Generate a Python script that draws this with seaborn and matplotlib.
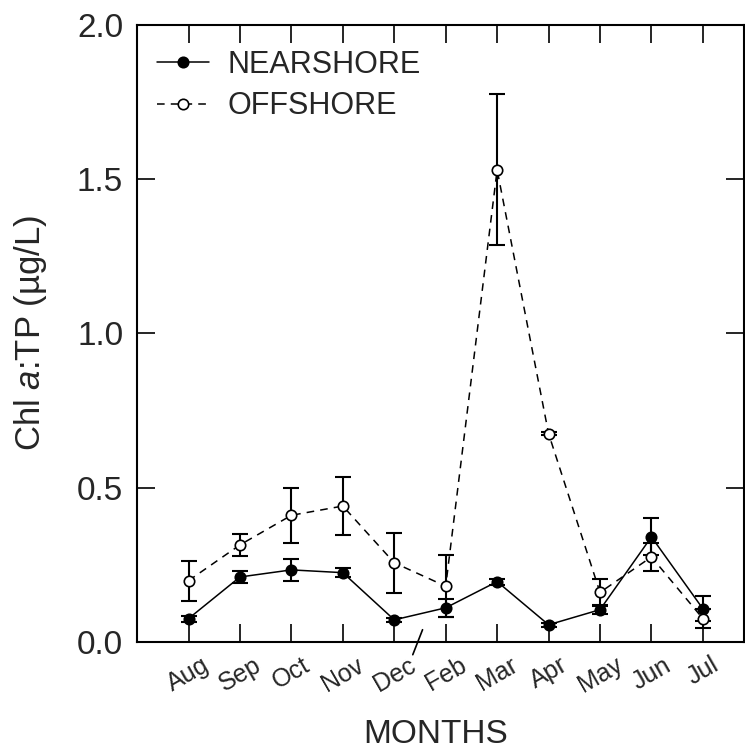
import numpy as np
import pandas as pd
import seaborn as sns
import matplotlib
matplotlib.use("Agg")
import matplotlib.pyplot as plt

# values
months = ["Aug", "Sep", "Oct", "Nov", "Dec", "Feb", "Mar", "Apr", "May", "Jun", "Jul"]
near_mean = [0.075, 0.21, 0.233, 0.224, 0.071, 0.11, 0.195, 0.055, 0.104, 0.34, 0.107]
near_err = [0.01, 0.02, 0.035, 0.015, 0.006, 0.03, 0.01, 0.006, 0.015, 0.06, 0.04]
off_mean = [0.198, 0.314, 0.41, 0.44, 0.256, 0.18, 1.53, 0.675, 0.16, 0.275, 0.075]
off_err = [0.065, 0.035, 0.09, 0.095, 0.097, 0.1, 0.245, 0.006, 0.045, 0.045, 0.03]

sns.set_style("ticks")
plt.rcParams["font.family"] = ["Liberation Sans", "DejaVu Sans"]
plt.rcParams["mathtext.fontset"] = "custom"
plt.rcParams["mathtext.it"] = "Liberation Sans:italic"
plt.rcParams["mathtext.rm"] = "Liberation Sans"

pos = np.arange(1, len(months) + 1)
df = pd.DataFrame({
    "pos": np.concatenate([pos, pos]),
    "value": near_mean + off_mean,
    "err": near_err + off_err,
    "site": ["NEARSHORE"] * len(months) + ["OFFSHORE"] * len(months),
})

fig = plt.figure(figsize=(7.45, 7.55), dpi=100)
ax = fig.add_axes([0.184, 0.150, 0.814, 0.817])

# error bars first so markers sit on top
for site in ["NEARSHORE", "OFFSHORE"]:
    d = df[df["site"] == site]
    ax.errorbar(d["pos"], d["value"], yerr=d["err"], fmt="none",
                ecolor="black", elinewidth=1.5, capsize=5.5, capthick=1.5, zorder=2)

sns.lineplot(data=df, x="pos", y="value", style="site", ax=ax,
             color="black", linewidth=1.1, markers={"NEARSHORE": "o", "OFFSHORE": "o"},
             dashes={"NEARSHORE": "", "OFFSHORE": (5, 4)}, markersize=7.5,
             markeredgecolor="black", markeredgewidth=1.2, zorder=3)

# open markers for offshore (the dashed one)
for line in ax.get_lines():
    if line.get_linestyle() not in ("-", "None"):
        line.set_markerfacecolor("white")

ax.set_xlim(0, 11.79)
ax.set_ylim(0, 2.0)
ax.set_yticks([0.0, 0.5, 1.0, 1.5, 2.0])
ax.set_yticklabels(["0.0", "0.5", "1.0", "1.5", "2.0"], fontsize=24)
ax.set_xticks(pos)
ax.set_xticklabels(months, rotation=30, ha="center", fontsize=18)
ax.tick_params(axis="both", direction="in", length=13, width=1.2,
               top=True, right=True, color="black")
ax.tick_params(axis="x", pad=8)
ax.tick_params(axis="y", pad=10)
for sp in ax.spines.values():
    sp.set_visible(True)
    sp.set_linewidth(1.5)
    sp.set_color("black")

# axis break mark between Dec and Feb
ax.plot([5.55, 5.36], [0.039, -0.042], color="black", linewidth=1.2, clip_on=False)

ax.set_xlabel("MONTHS", fontsize=24)
ax.xaxis.set_label_coords(0.4926, -0.126)
ax.set_ylabel("Chl $\\mathit{a}$:TP (µg/L)", fontsize=25)
ax.yaxis.set_label_coords(-0.145, 0.5)

handles, labels = ax.get_legend_handles_labels()
leg = ax.legend(handles, labels, loc="upper left", frameon=False, fontsize=22,
                handlelength=1.7, handletextpad=0.6, borderaxespad=0,
                labelspacing=0.37, bbox_to_anchor=(0.013, 0.979))
for h in leg.legend_handles:
    if h.get_linestyle() not in ("-", "None"):
        h.set_markerfacecolor("white")

fig.savefig("out.png", dpi=100)
